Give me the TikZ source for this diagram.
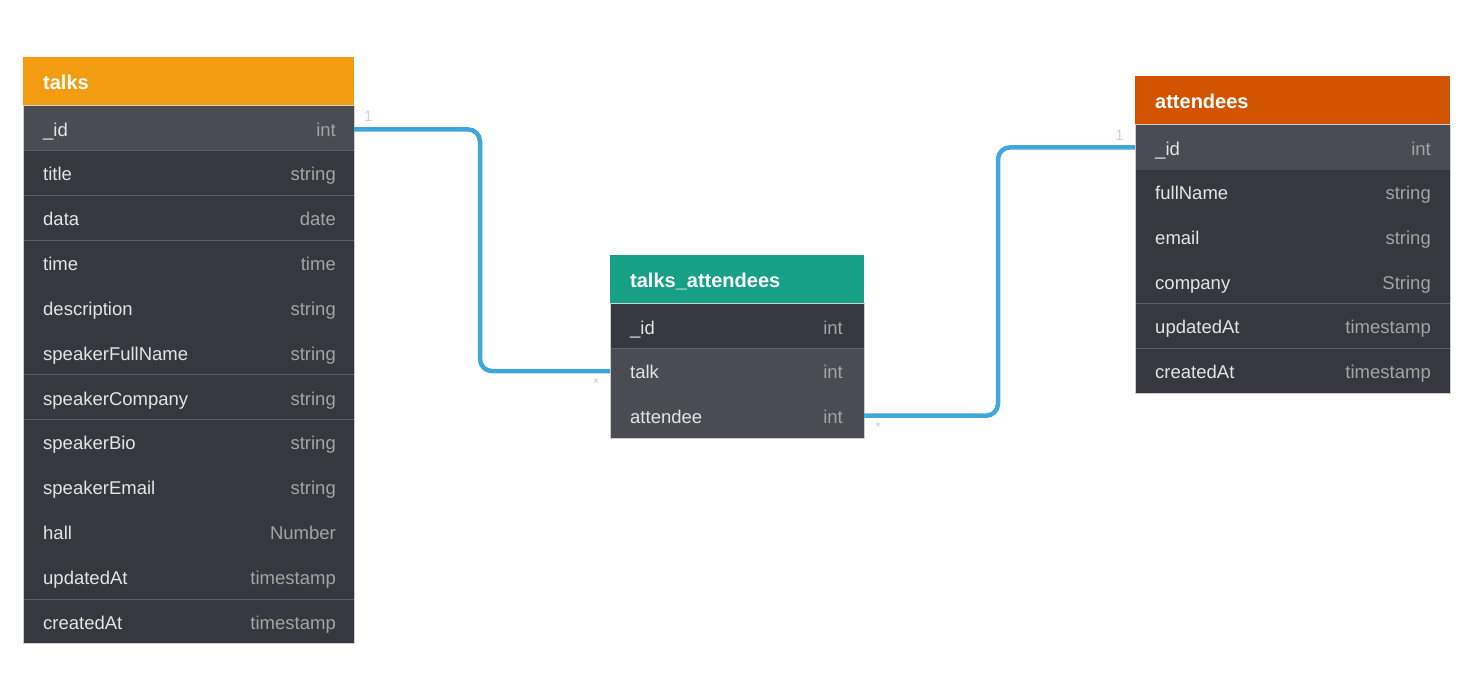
\documentclass[tikz,border=0pt]{standalone}
\usepackage{fontspec}
\setmainfont{Liberation Sans}
\usetikzlibrary{calc}

\definecolor{talkshead}{HTML}{F39C12}
\definecolor{atthead}{HTML}{D35400}
\definecolor{linkhead}{HTML}{16A085}
\definecolor{rowdark}{HTML}{37383F}
\definecolor{rowlight}{HTML}{4A4C54}
\definecolor{fieldtext}{HTML}{E4E4E4}
\definecolor{typetext}{HTML}{A4A4A4}
\definecolor{sepline}{HTML}{606168}
\definecolor{framegray}{HTML}{CFCFCF}
\definecolor{linkblue}{HTML}{3FA7DC}
\definecolor{cardgray}{HTML}{D2D2D2}

\begin{document}
\begin{tikzpicture}[x=1pt,y=-1pt,
	head/.style={anchor=north west, minimum height=49pt, inner sep=0pt, outer sep=0pt},
	row/.style={anchor=north west, minimum height=44.8pt, inner sep=0pt, outer sep=0pt},
	fname/.style={anchor=west, text=fieldtext, font=\fontsize{18.5}{20}\selectfont, text height=15.5pt, text depth=0pt, inner sep=0pt},
	ftype/.style={anchor=east, text=typetext, font=\fontsize{18.5}{20}\selectfont, text height=15.5pt, text depth=0pt, inner sep=0pt},
	htitle/.style={anchor=west, text=white, font=\fontsize{20}{22}\selectfont\bfseries, text height=16.4pt, text depth=0pt, inner sep=0pt},
	sep/.style={draw=sepline, line width=1pt},
	frame/.style={draw=framegray, line width=1pt},
	link/.style={draw=linkblue, line width=4.5pt, rounded corners=12pt},
	card/.style={text=cardgray, font=\fontsize{15}{16}\selectfont, text height=10.8pt, text depth=0pt, inner sep=0pt}
	]
	\useasboundingbox (0,0) rectangle (1479,692);

	% talks
	\node[head, fill=talkshead, minimum width=331pt] (talks) at (23,57) {};
	\node[htitle] at ([xshift=20pt]talks.west) {talks};
	\foreach \name/\type/\shade [count=\i from 0] in {\_id/int/rowlight, title/string/rowdark, data/date/rowdark, time/time/rowdark, description/string/rowdark, speakerFullName/string/rowdark, speakerCompany/string/rowdark, speakerBio/string/rowdark, speakerEmail/string/rowdark, hall/Number/rowdark, updatedAt/timestamp/rowdark, createdAt/timestamp/rowdark}{
		\node[row, fill=\shade, minimum width=331pt] (talks-\i) at (23,{106+44.83*\i}) {};
		\node[fname] at ([xshift=20pt]talks-\i.west) {\name};
		\node[ftype] at ([xshift=-18pt]talks-\i.east) {\type};
	}
	\foreach \i in {0,1,2,5,6,10}
		\draw[sep] (talks-\i.south west) -- (talks-\i.south east);
	\draw[frame] (talks-0.north west) rectangle (talks-11.south east);

	% talks_attendees
	\node[head, fill=linkhead, minimum width=254pt] (ta) at (610,255) {};
	\node[htitle] at ([xshift=20pt]ta.west) {talks\_attendees};
	\foreach \name/\type/\shade [count=\i from 0] in {\_id/int/rowdark, talk/int/rowlight, attendee/int/rowlight}{
		\node[row, fill=\shade, minimum width=254pt] (ta-\i) at (610,{304+44.67*\i}) {};
		\node[fname] at ([xshift=20pt]ta-\i.west) {\name};
		\node[ftype] at ([xshift=-21pt]ta-\i.east) {\type};
	}
	\draw[sep] (ta-0.south west) -- (ta-0.south east);
	\draw[frame] (ta-0.north west) rectangle (ta-2.south east);

	% attendees
	\node[head, fill=atthead, minimum width=315pt] (att) at (1135,76) {};
	\node[htitle] at ([xshift=20pt]att.west) {attendees};
	\foreach \name/\type/\shade [count=\i from 0] in {\_id/int/rowlight, fullName/string/rowdark, email/string/rowdark, company/String/rowdark, updatedAt/timestamp/rowdark, createdAt/timestamp/rowdark}{
		\node[row, fill=\shade, minimum width=315pt] (att-\i) at (1135,{125+44.67*\i}) {};
		\node[fname] at ([xshift=20pt]att-\i.west) {\name};
		\node[ftype] at ([xshift=-19pt]att-\i.east) {\type};
	}
	\foreach \i in {3,4}
		\draw[sep] (att-\i.south west) -- (att-\i.south east);
	\draw[frame] (att-0.north west) rectangle (att-5.south east);

	% relations
	\coordinate (bendA) at (480,0);
	\coordinate (bendB) at (998,0);
	\draw[link] ([yshift=-1pt]talks-0.east) -| (bendA |- ta-1.west) -- (ta-1.west);
	\draw[link] (ta-2.east) -| (bendB |- att-0.west) -- (att-0.west);
	\node[card, anchor=south west] (c1) at ([xshift=10pt,yshift=7pt]talks-0.east) {1};
	\node[card, anchor=north] (c2) at ([xshift=-14pt,yshift=-6pt]ta-1.west) {*};
	\node[card, anchor=north] (c3) at ([xshift=14pt,yshift=-6pt]ta-2.east) {*};
	\node[card, anchor=south east] (c4) at ([xshift=-11pt,yshift=7pt]att-0.west) {1};
\end{tikzpicture}
\end{document}
